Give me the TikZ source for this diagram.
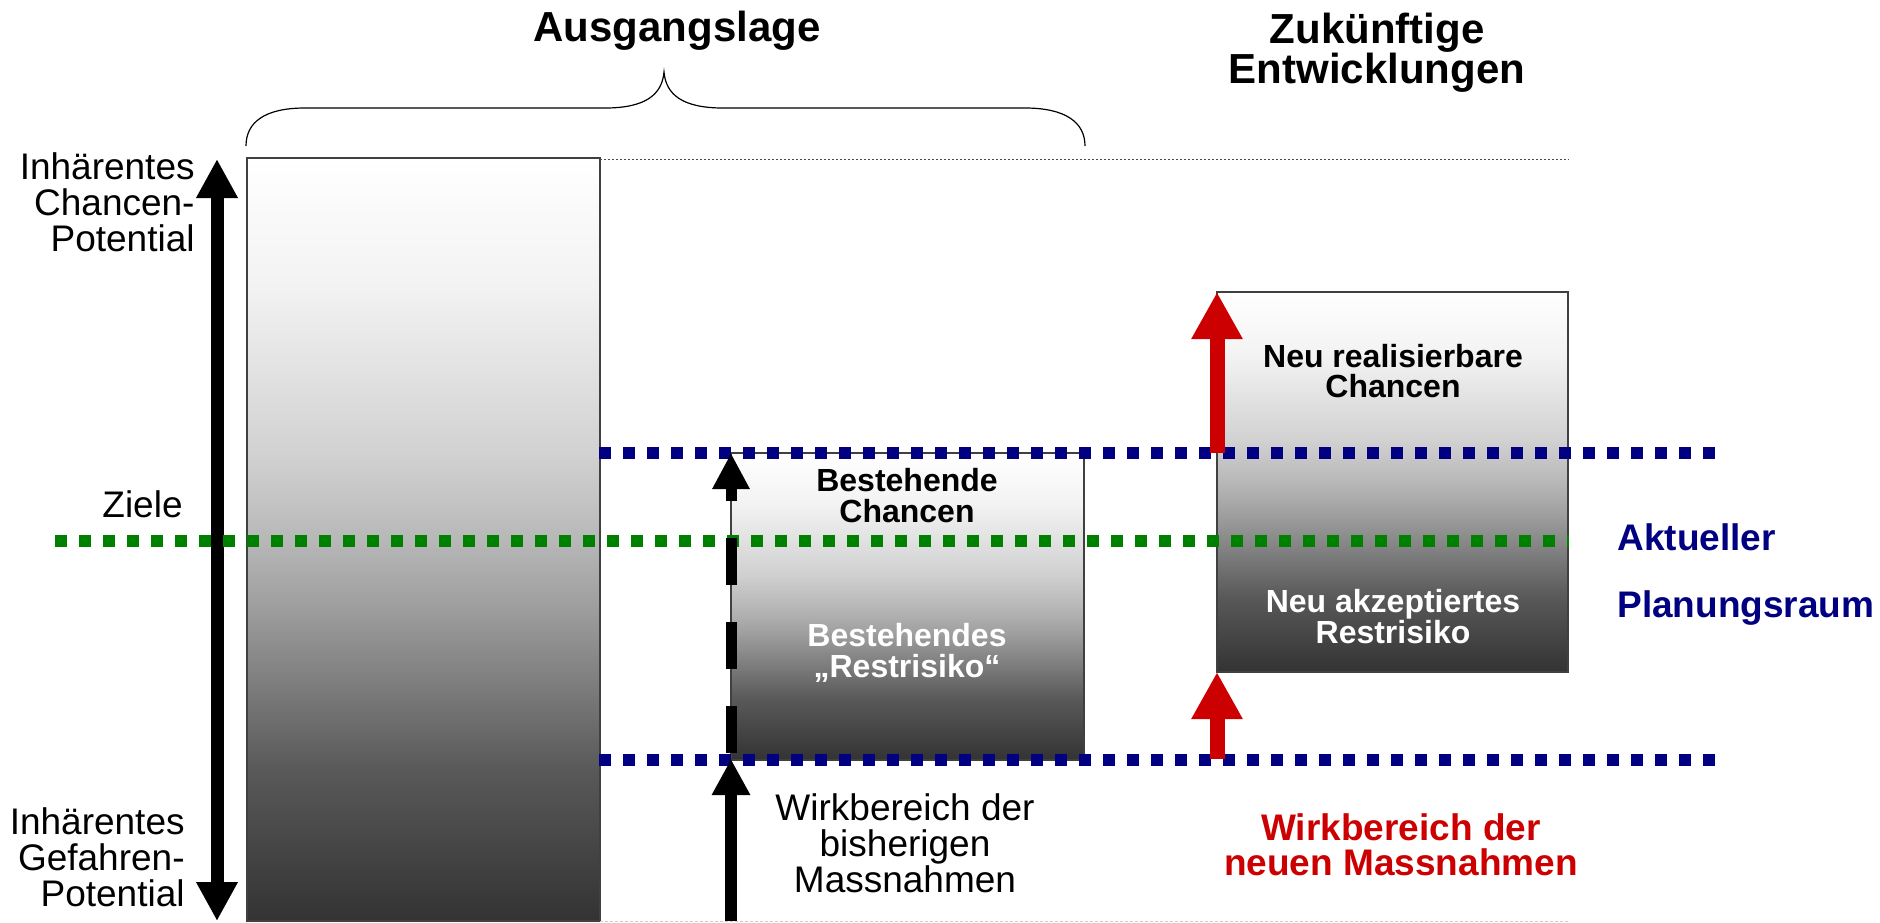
\documentclass[tikz,border=0pt]{standalone}
\usepackage{fontspec}
\setmainfont{Liberation Sans}
\usetikzlibrary{arrows.meta}

\definecolor{navyline}{RGB}{0,0,128}
\definecolor{greenline}{RGB}{0,128,0}
\definecolor{redarrow}{RGB}{204,0,0}

% white at the top, dark grey at the bottom
\pgfdeclareverticalshading{riskfade}{100bp}{color(0bp)=(black!80); color(25bp)=(black!80); color(35bp)=(black!65); color(46bp)=(black!37); color(50bp)=(black!28); color(55.5bp)=(black!18); color(66.5bp)=(black!5); color(75bp)=(white); color(100bp)=(white)}

\tikzset{
  riskbox/.style={draw=black!75, line width=0.6pt, shading=riskfade},
  bluedots/.style={draw=navyline, line width=6pt, dash pattern=on 6pt off 6pt},
  greendots/.style={draw=greenline, line width=6pt, dash pattern=on 6pt off 6pt},
  titletext/.style={inner sep=0pt, align=center, font=\bfseries\fontsize{21}{20}\selectfont},
  sidetext/.style={inner sep=0pt, align=right, font=\fontsize{18.5}{18}\selectfont},
  boxtext/.style={inner sep=0pt, align=center, font=\bfseries\fontsize{16}{15.5}\selectfont},
  plaintext/.style={inner sep=0pt, align=center, font=\fontsize{18.5}{18}\selectfont},
  bigtext/.style={inner sep=0pt, font=\bfseries\fontsize{18.5}{17.5}\selectfont},
}

\begin{document}
\begin{tikzpicture}[x=0.5pt,y=0.5pt,yscale=-1,xscale=1]
\useasboundingbox (0,0) rectangle (1880,922);

%Shapes: Rectangles
\draw [riskbox] (247,158) rectangle (600,921) ;
\draw [riskbox] (731,453) rectangle (1084,760) ;
\draw [riskbox] (1217,292) rectangle (1568,672) ;

%Dotted thin lines
\draw [draw=black!70, line width=0.5pt, dash pattern=on 1pt off 1pt] (600,159) -- (1569,159) ;
\draw [draw=black!20, line width=0.5pt, dash pattern=on 1.5pt off 1pt] (600,921) -- (1569,921) ;

%Curve Lines: brace
\draw [line width=0.6pt] (246,146) .. controls (246,122) and (265,108) .. (305,108) -- (605,108) .. controls (645,108) and (662,95) .. (664,72) .. controls (666,95) and (683,108) .. (723,108) -- (1025,108) .. controls (1065,108) and (1085,122) .. (1085,146) ;

%Coordinates
\coordinate (chancetop) at (217,159);
\coordinate (gefahrbot) at (217,921);
\coordinate (oldtop) at (731,453);
\coordinate (oldmid) at (731,759);
\coordinate (oldbot) at (731,921);
\coordinate (newtop) at (1217,292);
\coordinate (newup) at (1217,453);
\coordinate (newmid) at (1217,672);
\coordinate (newlow) at (1217,759);

%Straight Lines: arrows
\draw [line width=6.5pt, {Triangle[width=19.5pt,length=19.5pt]}-{Triangle[width=19.5pt,length=19.5pt]}] (gefahrbot) -- (chancetop) ;
\draw [greendots] (55,541) -- (1569,541) ;
\draw [bluedots] (599,453) -- (1715,453) ;
\draw [bluedots] (599,760) -- (1715,760) ;
\draw [line width=5.5pt, dash pattern=on 23.5pt off 18.5pt, dash phase=39pt, -{Triangle[width=17.5pt,length=18pt]}] (oldmid) -- (oldtop) ;
\draw [line width=6pt, -{Triangle[width=18pt,length=18pt]}] (oldbot) -- (oldmid) ;
\draw [redarrow, line width=7.5pt, -{Triangle[width=24pt,length=23.5pt]}] (newup) -- (newtop) ;
\draw [redarrow, line width=7.5pt, -{Triangle[width=24pt,length=23.5pt]}] (newlow) -- (newmid) ;

% Text Node (anchor base = baseline of the last line)
\node (ausgang) [titletext, anchor=base] at (677,41) {Ausgangslage};
% Text Node
\node (zukunft) [titletext, anchor=base] at (1377,83) {Zukünftige\\Entwicklungen};
% Text Node
\node (chancen) [sidetext, anchor=base east] at (195,251) {Inhärentes\\Chancen-\\Potential};
% Text Node
\node (ziele) [sidetext, anchor=base east] at (183,517) {Ziele};
% Text Node
\node (gefahren) [sidetext, anchor=base east] at (185,906) {Inhärentes\\Gefahren-\\Potential};
% Text Node
\node (altchancen) [boxtext, anchor=base] at (907,522) {Bestehende\\Chancen};
% Text Node
\node (altrisiko) [boxtext, anchor=base, text=white] at (907,677) {Bestehendes\\„Restrisiko“};
% Text Node
\node (altwirk) [plaintext, anchor=base] at (905,892) {Wirkbereich der\\bisherigen\\Massnahmen};
% Text Node
\node (neuchancen) [boxtext, anchor=base, font=\bfseries\fontsize{16}{15}\selectfont] at (1393,397) {Neu realisierbare\\Chancen};
% Text Node
\node (neurisiko) [boxtext, anchor=base, text=white] at (1393,643) {Neu akzeptiertes\\Restrisiko};
% Text Node
\node (aktuell) [bigtext, anchor=base west, text=navyline] at (1617,550) {Aktueller};
% Text Node
\node (planung) [bigtext, anchor=base west, text=navyline] at (1617,617) {Planungsraum};
% Text Node
\node (neuwirk) [bigtext, anchor=base, align=center, text=redarrow] at (1401,875) {Wirkbereich der\\neuen Massnahmen};
\end{tikzpicture}
\end{document}
